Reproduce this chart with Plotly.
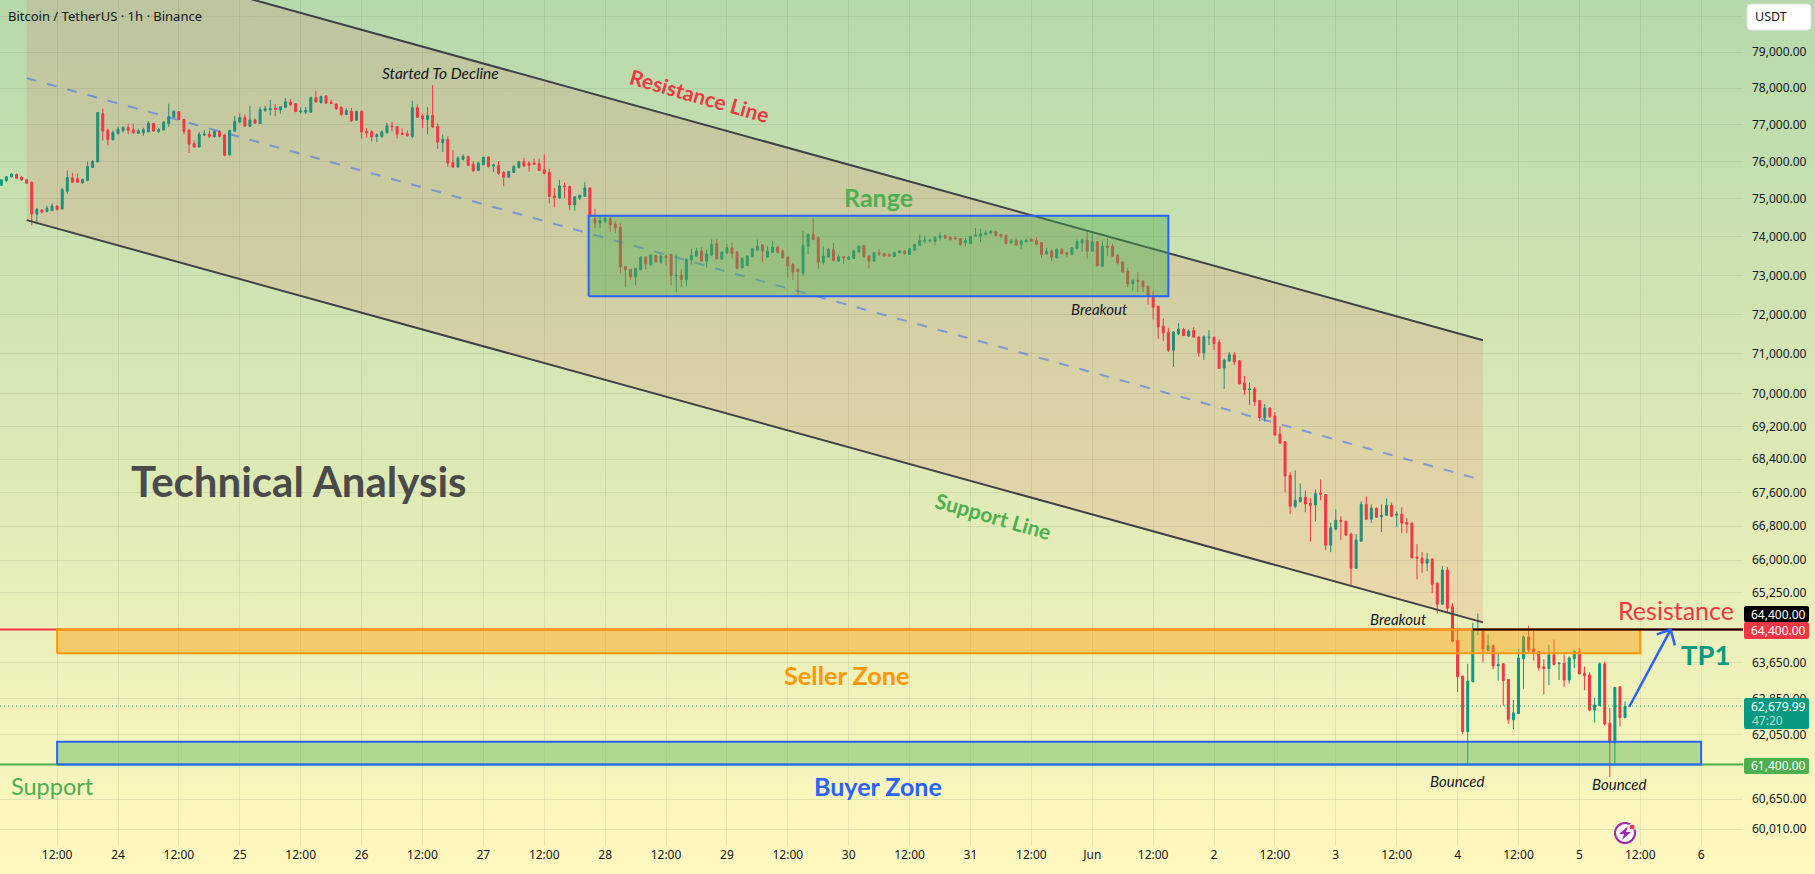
import base64

import pandas as pd
import plotly.graph_objects as go

# Hourly BTC/USDT candles, oldest first
opens = [
    75364,75490,75589,75652,75580,75508,75445,74599,74707,74662,
    74689,74815,74734,75202,75562,75535,75427,75490,75841,75985,
    77299,76840,76588,76759,76831,76921,76858,76759,76777,76804,
    77029,76813,76849,77029,77200,77353,77137,76849,76480,76390,
    76714,76741,76669,76813,76714,76174,76822,77065,77191,76948,
    77128,77029,77389,77407,77443,77398,77470,77614,77569,77344,
    77335,77335,77731,77605,77785,77605,77560,77470,77272,77362,
    77119,77362,76813,76804,76669,76678,76777,76957,76948,76759,
    76750,76678,77461,77236,77137,77245,76948,76507,76597,75976,
    75850,76057,76129,75922,75760,75913,76120,75877,75895,75706,
    75580,75706,75841,75994,75958,75958,75940,75778,75706,75076,
    75022,75346,75328,74842,75022,75067,75292,
    74467,74363,74406,74475,74337,74250,73221,73152,72961,73152,
    73472,73281,73515,73342,73498,73541,72987,73005,72884,73394,
    73498,73628,73368,73524,73818,73420,73584,73714,73602,73195,
    73255,73480,73654,73792,73472,73593,73731,73628,73472,73281,
    73152,73065,73757,74060,73974,73342,73472,73662,73368,73480,
    73411,73437,73610,73766,73498,73368,73584,73558,73541,73489,
    73584,73628,73541,73654,73775,73887,73896,73887,73974,74034,
    73991,73974,73956,73844,73826,74017,74017,74060,74103,74146,
    74060,74034,73844,73904,73800,73870,73930,73896,73852,73558,
    73628,73455,73679,73584,73541,73697,73844,73913,73628,73870,
    73230,73757,73757,73524,73342,73108,72780,72875,72850,72719,
    72460,72205,71698,71547,71093,71505,71614,71446,71589,71421,
    71025,71403,71420,71294,70645,70818,70975,70827,70273,70107,
    70124,69835,69406,69653,69455,69012,68825,68012,67271,67380,
    67482,67341,67302,67584,67553,66353,66729,66941,66918,66612,
    65814,66447,67318,66965,67224,67020,67059,67294,67059,67083,
    66886,66871,66071,66047,65930,66024,65467,64982,65768,64924,
    64149,63351,62120,63222,64385,64400,63929,64035,63579,63625,
    63275,62378,62515,63739,64233,63959,63898,63556,63518,63830,
    63625,63640,63260,63739,63891,63412,63374,62591,62690,63625,
    62302,61872,63108,62424,
]
highs = [
    75508,75607,75688,75679,75616,75508,75463,74761,74734,74815,
    74887,74833,75292,75760,75697,75679,75544,75994,76030,77326,
    77434,76885,76840,76939,76957,77020,77029,76885,76912,77092,
    77047,76912,77092,77569,77389,77371,77155,76885,76570,76795,
    76849,76831,76840,76849,76750,76858,77236,77299,77272,77506,
    77164,77479,77515,77677,77560,77488,77722,77695,77578,77470,
    77470,77767,77920,77794,77812,77677,77578,77497,77443,77452,
    77380,77380,76903,76840,76759,76840,77047,77074,76957,76894,
    76840,77650,77551,77290,77479,78082,77029,76732,76678,76309,
    76147,76192,76165,76012,75994,76120,76138,75940,76012,75742,
    75751,75904,76021,76102,76012,76075,76075,76192,75805,75292,
    75508,75436,75355,75076,75121,75445,75292,
    74735,74536,74562,74536,74406,74354,73238,73152,73195,73498,
    73498,73558,73541,73541,73541,73558,73558,73152,73437,73697,
    73714,73731,73671,73930,73939,73628,73826,73844,73628,73472,
    73524,73714,73930,73800,73757,73887,73757,73671,73498,73325,
    73169,74164,74103,74492,74017,73757,73714,73844,73541,73498,
    73498,73671,73775,73783,73515,73610,73679,73584,73558,73610,
    73654,73654,73705,73818,74060,74017,73956,74017,74121,74060,
    74017,74017,73974,73974,74017,74233,74216,74164,74181,74164,
    74077,74060,73948,73974,73930,73948,73974,73991,73870,73714,
    73671,73697,73714,73610,73731,73930,73956,74146,74103,73887,
    73887,73956,73818,73541,73368,73195,72884,73083,72867,72737,
    72592,72222,71891,71656,71572,71774,71656,71614,71673,71446,
    71470,71596,71428,71361,70884,71042,71042,70843,70447,70281,
    70174,69851,69752,69662,69554,69192,68841,68085,68133,67818,
    67648,67475,67673,67915,67553,66878,67200,67035,66918,66651,
    66612,67388,67506,67318,67247,67318,67459,67365,67153,67247,
    66988,66894,66377,66188,66165,66047,65490,65861,65845,65008,
    64430,63351,63625,64552,64765,64400,64286,64058,63868,63640,
    63275,62819,63959,64263,64491,64400,63914,63731,64058,64172,
    63655,63830,63792,63921,63982,63564,63435,62865,63655,63678,
    62637,63108,63123,62781,
]
lows = [
    75364,75454,75571,75544,75481,75418,74302,74329,74617,74653,
    74680,74689,74725,75139,75427,75427,75409,75481,75823,75976,
    76570,76435,76570,76723,76786,76741,76750,76759,76696,76786,
    76804,76768,76840,76939,77182,77119,76732,76228,76372,76372,
    76687,76633,76651,76651,76138,76165,76804,77038,76939,76930,
    77020,77020,77344,77245,77227,77290,77452,77515,77344,77299,
    77290,77326,77596,77569,77569,77560,77398,77236,77263,77074,
    77101,76615,76642,76543,76525,76633,76759,76813,76624,76723,
    76678,76624,77182,76912,76741,76912,76336,76255,75859,75832,
    75832,76030,75877,75715,75742,75904,75841,75715,75643,75337,
    75562,75697,75814,75850,75724,75913,75742,75661,74878,74779,
    75013,75022,74707,74689,74977,75058,74527,
    74233,74233,74363,74129,74103,73048,72693,72892,72745,73126,
    73152,73238,73333,73299,73238,72745,72572,72693,72719,73281,
    73472,73351,73195,73498,73411,73403,73558,73437,73152,73178,
    73238,73472,73628,73342,73455,73584,73567,73437,72935,72875,
    72503,72979,73541,73913,73169,73281,73455,73368,73351,73299,
    73394,73429,73584,73455,73178,73351,73498,73480,73480,73472,
    73567,73541,73541,73628,73757,73826,73844,73783,73904,73948,
    73904,73913,73775,73757,73818,74017,73861,74034,74077,74017,
    73974,73800,73818,73766,73679,73852,73870,73783,73455,73541,
    73368,73437,73541,73455,73524,73671,73610,73437,73610,73230,
    73212,73498,73472,73281,73065,72693,72607,72572,72572,72248,
    71866,71379,71320,71051,70673,71471,71446,71429,71404,70925,
    70843,71218,71092,70620,70124,70802,70719,70240,69975,69728,
    69703,69332,69315,69406,68980,68767,67608,67083,67224,67365,
    67130,66432,66918,67412,66235,66188,66706,66471,66580,65412,
    65807,66439,66957,66878,66996,66659,67051,67020,66776,66635,
    66635,66047,65559,65699,65745,65235,64767,64959,64783,64111,
    62994,62059,61397,63214,64271,63655,63906,63503,63245,62690,
    62287,62173,62500,63070,63868,63701,63473,62941,63146,63587,
    63260,63108,63184,63526,63389,63032,62576,62316,62682,62249,
    61127,61383,62234,62409,
]
closes = [
    75508,75589,75661,75553,75508,75418,74599,74725,74653,74752,
    74815,74725,75247,75571,75445,75445,75517,75868,76003,77326,
    76822,76597,76786,76876,76921,76840,76777,76831,76858,77038,
    76822,76867,77065,77218,77362,77137,76813,76471,76390,76732,
    76741,76678,76813,76678,76165,76840,77083,77191,76957,77128,
    77038,77407,77434,77434,77416,77488,77623,77533,77353,77371,
    77389,77740,77623,77767,77587,77578,77434,77272,77380,77101,
    77362,76795,76777,76660,76723,76804,76966,76939,76741,76732,
    76696,77461,77200,77155,77245,76930,76525,76597,75958,75850,
    76093,76138,75895,75751,75958,76111,75859,75904,75679,75580,
    75733,75868,75994,75877,75895,75922,75760,75679,75067,75031,
    75346,75328,74842,75058,75094,75292,74545,
    74363,74432,74492,74320,74233,73221,73152,72961,73178,73472,
    73299,73524,73351,73498,73455,72996,73005,72892,73411,73515,
    73628,73368,73558,73800,73429,73602,73714,73567,73186,73437,
    73498,73688,73757,73628,73628,73731,73593,73455,73238,73083,
    73091,73783,74060,73930,73342,73498,73671,73385,73480,73455,
    73472,73628,73757,73480,73368,73576,73558,73498,73498,73593,
    73636,73558,73688,73800,73904,73913,73913,73991,74034,73974,
    73930,73948,73792,73904,74017,74043,74077,74103,74146,74034,
    74017,73826,73904,73783,73887,73913,73887,73809,73541,73628,
    73472,73679,73558,73541,73714,73870,73913,73628,73870,73247,
    73757,73731,73498,73325,73091,72780,72875,72850,72702,72460,
    72179,71681,71530,71093,71547,71622,71463,71572,71421,71026,
    71428,71420,71260,70637,70843,70975,70793,70248,70099,70124,
    69810,69414,69653,69439,68988,68792,67996,67271,67412,67482,
    67326,67294,67569,67561,66353,66761,66941,66918,66588,65814,
    66471,67318,66965,67224,67012,67059,67294,67035,67083,66871,
    66847,66055,66047,65930,66024,65443,64982,65768,64890,64134,
    63336,62120,63237,64400,64400,63959,64035,63579,63610,63245,
    62386,62530,63754,64233,63944,63883,63541,63518,63830,63610,
    63640,63260,63754,63906,63397,63359,62591,62705,63625,62287,
    61872,63093,62424,62679.99,
]

# Descending parallel channel
channel_times = ["2026-05-23 06:00", "2026-06-04 05:00"]
resistance_line = [82282, 71343]
middle_line = [78276, 67894]
support_line = [74439, 64565]

# Consolidation box and horizontal zones
range_times = ["2026-05-27 20:45", "2026-06-01 15:00"]
range_prices = [72463, 74553]
seller_times = ["2026-05-23 12:00", "2026-06-05 12:00"]
seller_prices = [63862, 64400]
buyer_times = ["2026-05-23 12:00", "2026-06-06 00:00"]
buyer_prices = [61400, 61895]

resistance_level = 64400
support_level = 61400
last_price = 62679.99
tp_start = "2026-06-04 03:00"

# Projected move toward the first target
arrow_times = ["2026-06-05 09:48", "2026-06-05 18:00"]
arrow_prices = [62660, 64400]
arrow_head_times = ["2026-06-05 15:15", "2026-06-05 18:00", "2026-06-05 18:50"]
arrow_head_prices = [64292, 64400, 64042]

# Axis labels; levels covered by the price tags get no tick text of their own
price_ticks = [80000, 79000, 78000, 77000, 76000, 75000, 74000, 73000, 72000, 71000, 70000,
               69200, 68400, 67600, 66800, 66000, 65250, 64400, 63650, 62850, 62050,
               61400, 60650, 60010]
tagged_ticks = [80000, 64400, 61400]
day_labels = ["24", "25", "26", "27", "28", "29", "30", "31", "Jun", "2", "3", "4", "5", "6"]

UP = "#089981"
DOWN = "#f23645"
INK = "#131722"
BLUE = "#2962ff"
GREEN = "#4caf50"
ORANGE = "#ff9800"
FONT = "Noto Sans"
NOTE_FONT = "Lato"

PLOT_W, PLOT_H = 1743, 846
FULL_W, FULL_H = 1815, 874
X_RANGE = ["2026-05-23 00:44:30", "2026-06-06 08:15:00"]
Y_RANGE = [4.77563, 4.90563]

candle_times = pd.date_range("2026-05-23 01:00", periods=len(opens), freq="h")


def px_x(x):
    return x / PLOT_W


def px_y(y):
    return 1 - y / PLOT_H


def rounded(x0, y0, x1, y1, r):
    # Rounded rectangle path in paper fractions, given in canvas pixels
    pts = [
        f"M{px_x(x0 + r)},{px_y(y0)}", f"L{px_x(x1 - r)},{px_y(y0)}",
        f"Q{px_x(x1)},{px_y(y0)} {px_x(x1)},{px_y(y0 + r)}", f"L{px_x(x1)},{px_y(y1 - r)}",
        f"Q{px_x(x1)},{px_y(y1)} {px_x(x1 - r)},{px_y(y1)}", f"L{px_x(x0 + r)},{px_y(y1)}",
        f"Q{px_x(x0)},{px_y(y1)} {px_x(x0)},{px_y(y1 - r)}", f"L{px_x(x0)},{px_y(y0 + r)}",
        f"Q{px_x(x0)},{px_y(y0)} {px_x(x0 + r)},{px_y(y0)}", "Z",
    ]
    return " ".join(pts)


def polyline(*points):
    head, *rest = points
    path = f"M{px_x(head[0])},{px_y(head[1])}"
    for x, y in rest:
        path += f" L{px_x(x)},{px_y(y)}"
    return path + " Z"


def path_shape(path, fill, line="rgba(0,0,0,0)", width=0):
    return dict(type="path", xref="paper", yref="paper", path=path, fillcolor=fill,
                line=dict(color=line, width=width), layer="above")


def label(text, x, y, size, color=INK, weight=400, style="normal", angle=0, anchor="center", family=NOTE_FONT):
    return dict(text=text, x=px_x(x), y=px_y(y), xref="paper", yref="paper", showarrow=False,
                xanchor=anchor, yanchor="middle", textangle=angle,
                font=dict(family=family, size=size, color=color, weight=weight, style=style))


def outline(times, prices):
    return [times[0], times[1], times[1], times[0], times[0]], \
           [prices[0], prices[0], prices[1], prices[1], prices[0]]


def box_trace(times, prices, fill, line):
    xs, ys = outline(times, prices)
    return go.Scatter(x=xs, y=ys, mode="lines", fill="toself", fillcolor=fill,
                      line=dict(color=line, width=2), hoverinfo="skip", showlegend=False)


def line_trace(xs, ys, color, width=2, dash="solid"):
    return go.Scatter(x=xs, y=ys, mode="lines", line=dict(color=color, width=width, dash=dash),
                      hoverinfo="skip", showlegend=False)


fig = go.Figure()

fig.add_trace(go.Candlestick(
    x=candle_times, open=opens, high=highs, low=lows, close=closes,
    increasing=dict(line=dict(color=UP, width=1), fillcolor=UP),
    decreasing=dict(line=dict(color=DOWN, width=1), fillcolor=DOWN),
    whiskerwidth=0, hoverinfo="skip", showlegend=False,
))

# Price levels behind the drawings
fig.add_trace(line_trace(X_RANGE, [last_price, last_price], UP, width=1, dash="1px,3px"))
fig.add_trace(line_trace(X_RANGE, [resistance_level, resistance_level], DOWN))
fig.add_trace(line_trace(X_RANGE, [support_level, support_level], GREEN))

# Channel body, rails and dashed median
fig.add_trace(go.Scatter(
    x=[channel_times[0], channel_times[1], channel_times[1], channel_times[0], channel_times[0]],
    y=[resistance_line[0], resistance_line[1], support_line[1], support_line[0], resistance_line[0]],
    mode="lines", fill="toself", fillcolor="rgba(242,54,69,0.12)", line=dict(width=0),
    hoverinfo="skip", showlegend=False,
))
fig.add_trace(line_trace(channel_times, resistance_line, "#3f4148"))
fig.add_trace(line_trace(channel_times, support_line, "#3f4148"))
fig.add_trace(line_trace(channel_times, middle_line, "rgba(41,98,255,0.5)", dash="10px,11px"))

# Range and supply/demand boxes
fig.add_trace(box_trace(range_times, range_prices, "rgba(76,175,80,0.42)", BLUE))
fig.add_trace(box_trace(seller_times, seller_prices, "rgba(255,152,0,0.42)", ORANGE))
fig.add_trace(box_trace(buyer_times, buyer_prices, "rgba(76,175,80,0.4)", BLUE))

# Target line and arrow
fig.add_trace(line_trace([tp_start, X_RANGE[1]], [resistance_level, resistance_level], "#000000"))
fig.add_trace(line_trace(arrow_times, arrow_prices, BLUE, width=2.5))
fig.add_trace(line_trace(arrow_head_times, arrow_head_prices, BLUE, width=2.5))

# Twelve-hour time axis
tick_times = pd.date_range("2026-05-23 12:00", "2026-06-06 00:00", freq="12h")
tick_text = []
days = iter(day_labels)
for t in tick_times:
    tick_text.append("12:00" if t.hour == 12 else next(days))

gradient_svg = (
    '<svg xmlns="http://www.w3.org/2000/svg" width="1815" height="874" preserveAspectRatio="none">'
    '<defs><linearGradient id="g" x1="0" y1="0" x2="0" y2="1">'
    '<stop offset="0" stop-color="#b6d9ab"/><stop offset="1" stop-color="#fff8bf"/>'
    '</linearGradient></defs><rect width="1815" height="874" fill="url(#g)"/></svg>'
)
gradient_src = "data:image/svg+xml;base64," + base64.b64encode(gradient_svg.encode()).decode()

shapes = [
    # Currency button
    path_shape(rounded(1747, 4, 1811, 30, 4), "#ffffff", "#e0e3eb", 1),
    # Price-scale tags
    path_shape(rounded(1744, 606, 1809, 622, 2), "#000000"),
    path_shape(rounded(1744, 622, 1809, 639, 2), DOWN),
    path_shape(rounded(1744, 698, 1809, 729, 2), UP),
    path_shape(rounded(1744, 758, 1809, 774, 2), GREEN),
    # Lightning badge near the time axis
    dict(type="circle", xref="paper", yref="paper", x0=px_x(1615), y0=px_y(843), x1=px_x(1635), y1=px_y(823),
         fillcolor="#ffffff", line=dict(color="#9c27b0", width=2), layer="above"),
    path_shape(polyline((1628, 826), (1619, 834), (1624, 834), (1622, 840), (1631, 832), (1626, 832)), "#9c27b0"),
    dict(type="circle", xref="paper", yref="paper", x0=px_x(1629), y0=px_y(830), x1=px_x(1635), y1=px_y(824),
         fillcolor=DOWN, line=dict(color="#ffffff", width=1), layer="above"),
]

annotations = [
    label("Bitcoin / TetherUS · 1h · Binance", 6, 16, 13, anchor="left", family=FONT),
    label("USDT", 1753, 17, 12.5, anchor="left", family=FONT),
    label("Started To Decline", 440, 73, 15.5, style="italic"),
    label("Resistance Line", 700, 95, 21, color=DOWN, weight=700, angle=16),
    label("Range", 878, 197, 25, color=GREEN, weight=700),
    label("Breakout", 1099, 309, 15, style="italic"),
    label("Breakout", 1398, 619, 15, style="italic"),
    label("Technical Analysis", 299, 481, 42, color="#4a4a4a", weight=700),
    label("Support Line", 993, 515, 21, color=GREEN, weight=700, angle=16),
    label("Seller Zone", 847, 675, 25.3, color=ORANGE, weight=700),
    label("Buyer Zone", 878, 786, 25, color=BLUE, weight=700),
    label("Support", 52, 786, 23.5, color=GREEN),
    label("Resistance", 1676, 610, 25, color=DOWN),
    label("TP1", 1705, 654, 27.5, color=UP, weight=700),
    label("Bounced", 1457, 781, 15, style="italic"),
    label("Bounced", 1619, 784, 15, style="italic"),
    label("64,400.00", 1778, 614, 12, color="#ffffff", family=FONT),
    label("64,400.00", 1778, 630, 12, color="#ffffff", family=FONT),
    label("62,679.99", 1778, 706, 12, color="#ffffff", family=FONT),
    label("47:20", 1767, 720, 12, color="rgba(255,255,255,0.7)", family=FONT),
    label("61,400.00", 1778, 765, 12, color="#ffffff", family=FONT),
]

fig.update_layout(
    width=FULL_W, height=FULL_H,
    margin=dict(l=0, r=FULL_W - PLOT_W, t=0, b=FULL_H - PLOT_H, pad=0),
    paper_bgcolor="rgba(0,0,0,0)", plot_bgcolor="rgba(0,0,0,0)",
    showlegend=False, hovermode=False, boxgap=0.45,
    font=dict(family=FONT, size=12, color=INK),
    images=[dict(source=gradient_src, xref="paper", yref="paper", x=0, y=1,
                 sizex=FULL_W / PLOT_W, sizey=FULL_H / PLOT_H, xanchor="left", yanchor="top",
                 sizing="stretch", layer="below")],
    shapes=shapes, annotations=annotations,
    xaxis=dict(type="date", range=X_RANGE, rangeslider=dict(visible=False), tickmode="array",
               tickvals=list(tick_times), ticktext=tick_text, showline=False, zeroline=False,
               showgrid=True, gridcolor="rgba(50,60,50,0.09)", gridwidth=1, ticks="", tickangle=0,
               tickfont=dict(family=FONT, size=12, color=INK)),
    yaxis=dict(type="log", range=Y_RANGE, side="right", tickmode="array", tickvals=price_ticks,
               ticktext=["" if p in tagged_ticks else f"{p:,.2f}" for p in price_ticks],
               showline=False, zeroline=False,
               showgrid=True, gridcolor="rgba(50,60,50,0.09)", gridwidth=1, ticks="",
               ticklabelstandoff=8, tickfont=dict(family=FONT, size=12, color=INK)),
)

fig.write_html("out.html", config=dict(displayModeBar=False, staticPlot=True))
